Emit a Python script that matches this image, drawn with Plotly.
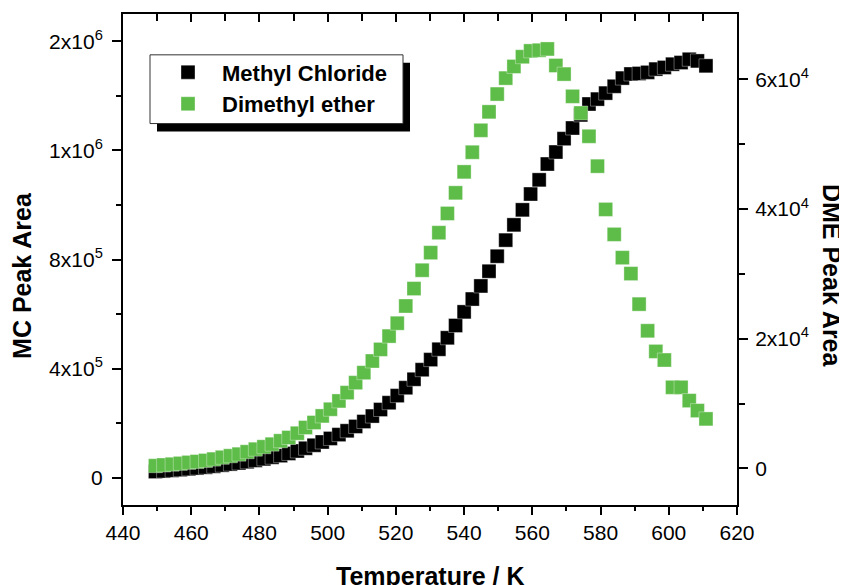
import plotly.graph_objects as go

# Temperature (K)
temperature = [449.5, 451.9, 454.4, 456.8, 459.3, 461.7, 464.2, 466.6, 469.1, 471.5,
               474.0, 476.4, 478.8, 481.3, 483.7, 486.2, 488.6, 491.1, 493.5, 496.0,
               498.4, 500.8, 503.3, 505.7, 508.2, 510.6, 513.1, 515.5, 518.0, 520.4,
               522.9, 525.3, 527.7, 530.2, 532.6, 535.1, 537.5, 540.0, 542.4, 544.9,
               547.3, 549.7, 552.2, 554.6, 557.1, 559.5, 562.0, 564.4, 566.9, 569.3,
               571.8, 574.2, 576.6, 579.1, 581.5, 584.0, 586.4, 588.9, 591.3, 593.8,
               596.2, 598.7, 601.1, 603.6, 606.0, 608.4, 610.9]

# Methyl Chloride peak area (left axis)
mc_area = [22500, 24500, 27000, 29500, 32500, 35500, 38500, 42000, 46000, 50000,
           54000, 58500, 63500, 69000, 75000, 81000, 89000, 98000, 108000, 119000,
           131000, 144000, 158000, 172000, 188000, 206000, 226000, 250000, 275000, 301000,
           330000, 361000, 396000, 433000, 471000, 513000, 558000, 608000, 655000, 703000,
           757000, 812000, 871000, 927000, 982000, 1040000, 1092000, 1150000, 1194000, 1243000,
           1282000, 1330000, 1370000, 1388000, 1410000, 1435000, 1465000, 1480000, 1482000, 1486000,
           1498000, 1504000, 1516000, 1522000, 1534000, 1528000, 1510000]

# Dimethyl ether peak area (right axis)
dme_area = [420, 530, 650, 780, 930, 1060, 1230, 1440, 1720, 1950,
            2200, 2570, 2970, 3340, 3740, 4260, 4770, 5430, 6310, 7080,
            8100, 9130, 10410, 11690, 13230, 14770, 16570, 18360, 20410, 22400,
            25050, 27740, 30570, 33280, 36360, 39330, 42510, 45740, 48770, 52150,
            55000, 57740, 60200, 62000, 63500, 64400, 64500, 64700, 62150, 60820,
            57390, 54820, 51230, 46620, 39950, 36100, 32510, 30050, 25340, 21230,
            18050, 16720, 12510, 12510, 10460, 8920, 7640]

x_ticks = [440, 460, 480, 500, 520, 540, 560, 580, 600, 620]
mc_tickvals = [0, 400000, 800000, 1200000, 1600000]
mc_ticktext = ["0", "4x10<sup>5</sup>", "8x10<sup>5</sup>", "1x10<sup>6</sup>", "2x10<sup>6</sup>"]
dme_tickvals = [0, 20000, 40000, 60000]
dme_ticktext = ["0", "2x10<sup>4</sup>", "4x10<sup>4</sup>", "6x10<sup>4</sup>"]

FONT = "Liberation Sans, Arial, sans-serif"
GREEN = "#5EBC48"
MSIZE = 14
TW = 2

fig = go.Figure()
# invisible copy on the top axis so its inward ticks are drawn
fig.add_trace(go.Scatter(
    x=temperature, y=mc_area, mode="markers", xaxis="x2", yaxis="y",
    marker=dict(opacity=0), showlegend=False, hoverinfo="skip"))
fig.add_trace(go.Scatter(
    x=temperature, y=mc_area, mode="markers", name="Methyl Chloride",
    marker=dict(symbol="square", size=MSIZE, color="black",
                line=dict(width=0.5, color="rgba(255,255,255,0.7)")),
    yaxis="y"))
fig.add_trace(go.Scatter(
    x=temperature, y=dme_area, mode="markers", name="Dimethyl ether",
    marker=dict(symbol="square", size=MSIZE, color=GREEN,
                line=dict(width=0.5, color="rgba(255,255,255,0.7)")),
    yaxis="y2"))

# page body margin offset (the figure sits 8px in from the page corner)
OFF = 8
W, H = 847 - OFF, 585 - OFF
# plot area in page pixels
PL, PR, PT, PB = 123, 737, 12, 505
L, T = PL - OFF, PT - OFF
R, B = W - (PR - OFF), H - (PB - OFF)
pw, ph = PR - PL, PB - PT

def px(xp):
    return (xp - PL) / pw

def py(yp):
    return (PB - yp) / ph

fig.update_layout(
    width=W, height=H,
    margin=dict(l=L, r=R, t=T, b=B),
    paper_bgcolor="white", plot_bgcolor="white",
    font=dict(family=FONT, size=21, color="black"),
    showlegend=True,
    xaxis=dict(range=[440, 620], tickvals=x_ticks, ticks="outside", ticklen=8,
               tickwidth=TW, tickcolor="black", showline=True, linewidth=2,
               linecolor="black", mirror=True, showgrid=False, zeroline=False,
               minor=dict(dtick=10, tick0=440, ticks="outside", ticklen=4,
                          tickwidth=TW, tickcolor="black", showgrid=False),
               tickfont=dict(size=21)),
    xaxis2=dict(range=[440, 620], overlaying="x", side="top", tickvals=x_ticks,
                ticks="inside", ticklen=8, tickwidth=TW, tickcolor="black",
                showticklabels=False, showline=False, showgrid=False, zeroline=False,
                minor=dict(dtick=10, tick0=440, ticks="inside", ticklen=7,
                           tickwidth=TW, tickcolor="black", showgrid=False)),
    yaxis=dict(range=[-100000, 1700000], tickvals=mc_tickvals, ticktext=mc_ticktext,
               ticks="outside", ticklen=9, tickwidth=TW, tickcolor="black",
               showline=True, linewidth=2, linecolor="black", showgrid=False,
               zeroline=False, ticklabelstandoff=5,
               minor=dict(tickvals=[200000, 600000, 1000000, 1400000], ticks="outside",
                          ticklen=5, tickwidth=TW, tickcolor="black", showgrid=False),
               tickfont=dict(size=21)),
    yaxis2=dict(range=[-5640, 70090], overlaying="y", side="right",
                tickvals=dme_tickvals, ticktext=dme_ticktext,
                ticks="outside", ticklen=9, tickwidth=TW, tickcolor="black",
                showline=True, linewidth=2, linecolor="black", showgrid=False,
                zeroline=False, ticklabelstandoff=3,
                minor=dict(tickvals=[10000, 30000, 50000], ticks="outside",
                           ticklen=6, tickwidth=TW, tickcolor="black", showgrid=False),
                tickfont=dict(size=21)),
    legend=dict(x=px(154), y=py(49.5), xanchor="left", yanchor="top",
                bgcolor="rgba(0,0,0,0)", borderwidth=0, itemwidth=58,
                font=dict(family=FONT, size=22, weight="bold", color="black"),
                tracegroupgap=0),
    shapes=[
        dict(type="rect", xref="paper", yref="paper", layer="above",
             x0=px(157), x1=px(410), y0=py(130), y1=py(61),
             fillcolor="black", line=dict(width=0)),
        dict(type="rect", xref="paper", yref="paper", layer="above",
             x0=px(150), x1=px(403), y0=py(122), y1=py(53),
             fillcolor="white", line=dict(width=1, color="#333333")),
    ],
    annotations=[
        dict(text="<b>Temperature / K</b>", xref="paper", yref="paper",
             x=0.5, y=py(560), xanchor="center", yanchor="top", showarrow=False,
             font=dict(family=FONT, size=25)),
        dict(text="<b>MC Peak Area</b>", xref="paper", yref="paper",
             x=px(22), y=py(275), xanchor="center", yanchor="middle", showarrow=False,
             textangle=-90, font=dict(family=FONT, size=25)),
        dict(text="<b>DME Peak Area</b>", xref="paper", yref="paper",
             x=px(832), y=py(275), xanchor="center", yanchor="middle", showarrow=False,
             textangle=90, font=dict(family=FONT, size=25)),
    ],
)

fig.write_html("out.html")
